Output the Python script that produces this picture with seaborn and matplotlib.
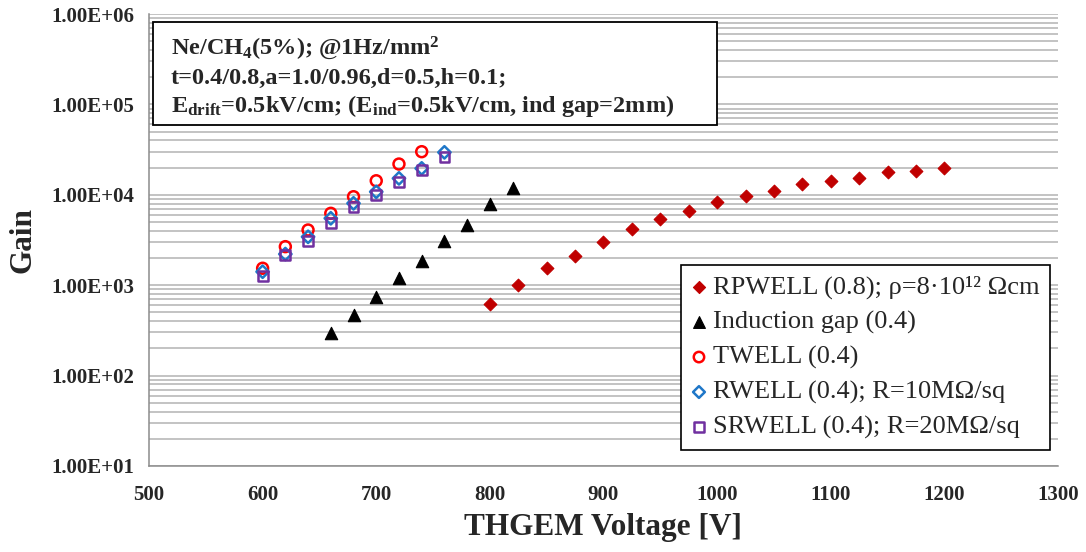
import numpy as np
import matplotlib.pyplot as plt
import matplotlib.ticker as mticker
from matplotlib.patches import Rectangle
import seaborn as sns

sns.set_style("white")
plt.rcParams["font.family"] = ["Liberation Serif", "DejaVu Serif"]
plt.rcParams["mathtext.fontset"] = "custom"
plt.rcParams["mathtext.rm"] = "Liberation Serif"
plt.rcParams["mathtext.it"] = "Liberation Serif:italic"
plt.rcParams["mathtext.bf"] = "Liberation Serif:bold"

# Gain vs THGEM voltage
rpwell_v = [800, 825, 850, 875, 900, 925, 950, 975, 1000, 1025, 1050, 1075,
            1100, 1125, 1150, 1175, 1200]
rpwell_g = [620, 1000, 1540, 2120, 3030, 4190, 5400, 6670, 8260, 9700, 11100,
            13100, 14200, 15500, 17700, 18300, 19600]

ind_v = [660, 680, 700, 720, 740, 760, 780, 800, 820]
ind_g = [299, 468, 747, 1210, 1870, 3100, 4630, 7910, 11800]

twell_v = [600, 620, 640, 660, 680, 700, 720, 740]
twell_g = [1540, 2670, 4080, 6240, 9530, 14300, 21900, 30000]

rwell_v = [600, 620, 640, 660, 680, 700, 720, 740, 760]
rwell_g = [1410, 2210, 3430, 5500, 8050, 10800, 15200, 19600, 29500]

srwell_v = [600, 620, 640, 660, 680, 700, 720, 740, 760]
srwell_g = [1270, 2160, 3100, 4840, 7280, 9950, 14000, 18800, 26400]

labels = ["RPWELL (0.8); ρ=8·10¹² Ωcm", "Induction gap (0.4)", "TWELL (0.4)",
          "RWELL (0.4); R=10MΩ/sq", "SRWELL (0.4); R=20MΩ/sq"]

fig = plt.figure(figsize=(10.86, 5.52), dpi=100)
ax = fig.add_axes([0.1372, 0.1558, 0.837, 0.8188])

sns.scatterplot(x=rpwell_v, y=rpwell_g, ax=ax, marker="D", s=42,
                color="#C00000", edgecolor="#C00000", linewidth=0.8,
                label=labels[0], zorder=3)
sns.scatterplot(x=ind_v, y=ind_g, ax=ax, marker="^", s=80,
                color="black", edgecolor="black", linewidth=0.8,
                label=labels[1], zorder=3)
sns.scatterplot(x=twell_v, y=twell_g, ax=ax, marker="o", s=62,
                color="#FF0000", facecolor="none", edgecolor="#FF0000",
                linewidth=1.8, label=labels[2], zorder=3)
sns.scatterplot(x=rwell_v, y=rwell_g, ax=ax, marker="D", s=40,
                color="#1F77C8", facecolor="none", edgecolor="#1F77C8",
                linewidth=1.8, label=labels[3], zorder=3)
sns.scatterplot(x=srwell_v, y=srwell_g, ax=ax, marker="s", s=50,
                color="#7030A0", facecolor="none", edgecolor="#7030A0",
                linewidth=1.8, label=labels[4], zorder=3)

ax.set_yscale("log")
ax.set_xlim(500, 1300)
ax.set_ylim(10, 1e6)
ax.xaxis.set_major_locator(mticker.MultipleLocator(100))
ax.yaxis.set_major_locator(mticker.LogLocator(base=10, numticks=10))
ax.yaxis.set_minor_locator(mticker.LogLocator(base=10, subs=np.arange(2, 10), numticks=20))
ax.yaxis.set_minor_formatter(mticker.NullFormatter())
ax.yaxis.set_major_formatter(mticker.FuncFormatter(lambda v, p: f"{v:.2E}"))

ax.grid(True, which="both", axis="y", color="#b3b3b3", linewidth=1.1)
ax.grid(False, axis="x")
ax.set_axisbelow(True)

for side in ["top", "right"]:
    ax.spines[side].set_visible(False)
for side in ["left", "bottom"]:
    ax.spines[side].set_color("#8c8c8c")
    ax.spines[side].set_linewidth(1.1)

ax.tick_params(axis="both", which="both", direction="out", color="#8c8c8c",
               width=1.0, length=5.5)
ax.tick_params(axis="x", which="minor", length=0)
ax.tick_params(axis="y", pad=5)
ax.tick_params(axis="x", pad=8)
for lab in ax.get_xticklabels() + ax.get_yticklabels():
    lab.set_fontsize(15)
    lab.set_fontweight("bold")

ax.set_xlabel("THGEM Voltage [V]", fontsize=22.5, fontweight="bold", labelpad=6)
ax.set_ylabel("Gain", fontsize=22.5, fontweight="bold", labelpad=10)

# Condition box
fig.patches.append(Rectangle((0.1409, 0.7735), 0.5193, 0.1866,
                             transform=fig.transFigure, facecolor="white",
                             edgecolor="black", linewidth=1.3, zorder=5))
box_lines = [r"Ne/CH$_\mathbf{4}$(5%); @1Hz/mm$^\mathbf{2}$",
             "t=0.4/0.8,a=1.0/0.96,d=0.5,h=0.1;",
             r"E$_\mathbf{drift}$=0.5kV/cm; (E$_\mathbf{ind}$=0.5kV/cm, ind gap=2mm)"]
for line, yb in zip(box_lines, [1 - 54 / 552, 1 - 84 / 552, 1 - 112 / 552]):
    fig.text(171 / 1086, yb, line, fontsize=17.5, fontweight="bold",
             va="baseline", ha="left", zorder=6)

leg = ax.legend(loc="upper right", bbox_to_anchor=(1050 / 1086, 1 - 265 / 552),
                bbox_transform=fig.transFigure, borderaxespad=0, fontsize=19,
                frameon=True, fancybox=False, framealpha=1, edgecolor="black",
                markerscale=0.95, handlelength=0.55, handletextpad=0.25,
                labelspacing=0.42, borderpad=0.4)
leg.get_frame().set_linewidth(1.2)

plt.savefig("out.png", dpi=100)
plt.close()
